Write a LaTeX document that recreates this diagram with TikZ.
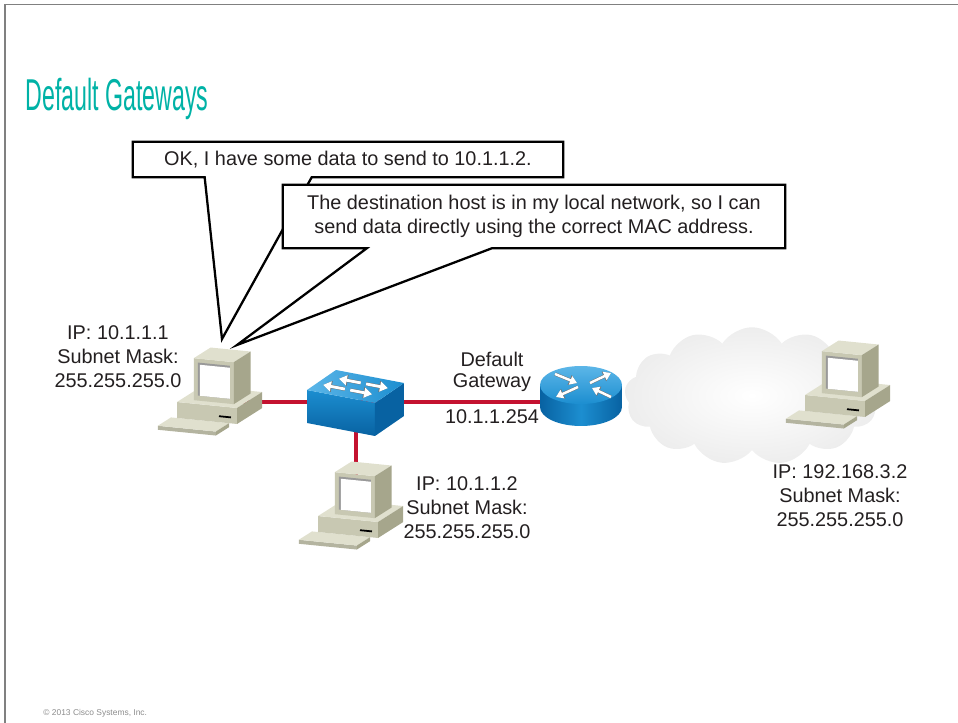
\documentclass[tikz,border=0pt]{standalone}
\usepackage{fontspec}
\setmainfont{Liberation Sans}
\newfontfamily\titlefont[FakeStretch=0.52]{Liberation Sans}
\usetikzlibrary{arrows.meta,shapes.symbols}
\definecolor{ciscoteal}{RGB}{0,178,166}
\definecolor{linkred}{RGB}{196,18,48}
\definecolor{labelgray}{RGB}{35,31,32}
\definecolor{pctop}{RGB}{224,224,206}
\definecolor{pcfront}{RGB}{200,200,178}
\definecolor{pcside}{RGB}{166,166,140}
\definecolor{devblue}{RGB}{28,142,208}
\definecolor{devdark}{RGB}{8,98,162}
\definecolor{devlight}{RGB}{92,182,232}
\pgfdeclarelayer{bg}
\pgfsetlayers{bg,main}

\tikzset{
  link/.style={linkred, line width=2pt},
  say/.style={draw=black, line width=1.3pt, fill=white, line join=miter},
  lbl/.style={text=labelgray, align=center, font=\fontsize{11.3}{13.7}\selectfont},
  swarrow/.style={white, line width=1.6pt, -{Triangle[length=4.5pt,width=5.5pt]},
    preaction={draw=black!55, line width=2.1pt, -{Triangle[length=5pt,width=6.2pt]}}},
  rtarrow/.style={white, line width=1.4pt, -{Triangle[length=4pt,width=5pt]},
    preaction={draw=black!55, line width=1.9pt, -{Triangle[length=4.5pt,width=5.8pt]}}},
  % desktop pc: keyboard, system unit, monitor
  pc/.pic={
    \begin{scope}[x={(0.02cm,-0.002cm)},y={(0cm,0.02cm)},z={(0.012cm,0.0076cm)},line join=round]
      \fill[pcfront!90!black] (-6,-4,-22) -- (52,-4,-22) -- (52,0,-22) -- (-6,0,-22) -- cycle;
      \fill[pctop] (-6,0,-22) -- (52,0,-22) -- (52,0,0) -- (-6,0,0) -- cycle;
      \fill[pcside] (52,-4,-22) -- (52,-4,0) -- (52,0,0) -- (52,0,-22) -- cycle;
      \fill[pcfront] (0,0,0) -- (60,0,0) -- (60,16,0) -- (0,16,0) -- cycle;
      \fill[pctop] (0,16,0) -- (60,16,0) -- (60,16,42) -- (0,16,42) -- cycle;
      \fill[pcside] (60,0,0) -- (60,0,42) -- (60,16,42) -- (60,16,0) -- cycle;
      \draw[black, line width=1pt] (42,6,0) -- (54,6,0);
      \fill[pcfront] (12,16,8) -- (52,16,8) -- (52,58,8) -- (12,58,8) -- cycle;
      \fill[pctop] (12,58,8) -- (52,58,8) -- (52,58,36) -- (12,58,36) -- cycle;
      \fill[pcside] (52,16,8) -- (52,16,36) -- (52,58,36) -- (52,58,8) -- cycle;
      \fill[black!40] (16,21,8) -- (48,21,8) -- (48,54,8) -- (16,54,8) -- cycle;
      \fill[white] (18,21,8) -- (48,21,8) -- (48,52,8) -- (18,52,8) -- cycle;
    \end{scope}
    \coordinate (-c) at (44,-41);
  },
  % workgroup switch
  switch/.pic={
    \begin{scope}[x={(1.36cm,-0.26cm)},y={(0.58cm,0.4cm)},z={(0cm,-0.66cm)},line join=round]
      \shade[top color=devblue, bottom color=devdark] (0,0,0) -- (1,0,0) -- (1,0,1) -- (0,0,1) -- cycle;
      \fill[devdark] (1,0,0) -- (1,1,0) -- (1,1,1) -- (1,0,1) -- cycle;
      \shade[left color=devlight, right color=devblue] (0,0,0) -- (1,0,0) -- (1,1,0) -- (0,1,0) -- cycle;
      \draw[swarrow] (0.50,0.68,0) -- (0.18,0.68,0);
      \draw[swarrow] (0.58,0.68,0) -- (0.90,0.68,0);
      \draw[swarrow] (0.42,0.32,0) -- (0.10,0.32,0);
      \draw[swarrow] (0.50,0.32,0) -- (0.82,0.32,0);
    \end{scope}
    \coordinate (-c) at (49,12);
  },
  % router disk
  router/.pic={
    \shade[left color=devdark, right color=devdark, middle color=devblue]
      (-41,0) -- (-41,22) arc[start angle=180, end angle=360, x radius=0.82cm, y radius=0.38cm] -- (41,0) -- cycle;
    \shade[top color=devlight, bottom color=devblue] (0,0) ellipse [x radius=0.82cm, y radius=0.38cm];
    \draw[rtarrow] (-26,-11) -- (-4,-2);
    \draw[rtarrow] (9,-2) -- (30,-12);
    \draw[rtarrow] (-3,2) -- (-25,12);
    \draw[rtarrow] (30,12) -- (11,3);
    \coordinate (-c) at (0,11);
  }
}

\begin{document}
\begin{tikzpicture}[x=0.02cm,y=-0.02cm]
  \useasboundingbox (0,0) rectangle (958,723);
  \draw[black!50, line width=0.9pt] (5,723) -- (5,4.5) -- (958,4.5);
  \node[anchor=base west, inner sep=0, text=ciscoteal,
        font=\titlefont\fontsize{25.4}{30}\selectfont] (title) at (25,111) {Default Gateways};
  \node[anchor=base west, inner sep=0, text=black!45,
        font=\fontsize{4.8}{6}\selectfont] (copy) at (43,715) {\textcopyright{} 2013 Cisco Systems, Inc.};

  % speech bubbles
  \node[lbl, minimum width=8.6cm, minimum height=0.7cm, inner sep=0] (okmsg) at (348,159.5)
    {OK, I have some data to send to 10.1.1.2.};
  \node[lbl, minimum width=10.04cm, minimum height=1.26cm, inner sep=0] (localmsg) at (534,216.5)
    {The destination host is in my local network, so I can\\send data directly using the correct MAC address.};
  \coordinate (tipA) at (222,339);
  \coordinate (tipB) at (237,345);

  % devices
  \node[cloud, cloud puffs=13, cloud puff arc=115, aspect=1.85, minimum width=5.1cm,
        minimum height=2.75cm, inner color=white, outer color=black!7] (inet) at (752,396) {};
  \pic (pcA) at (177,418) {pc};
  \pic (pcB) at (318,532) {pc};
  \pic (pcC) at (805,411) {pc};
  \pic (sw) at (307,390) {switch};
  \pic (gw) at (581,385) {router};

  % addresses
  \node[lbl] (ipA) at (118,357) {IP: 10.1.1.1\\Subnet Mask:\\255.255.255.0};
  \node[lbl] (ipB) at (467,508) {IP: 10.1.1.2\\Subnet Mask:\\255.255.255.0};
  \node[lbl] (ipC) at (840,496) {IP: 192.168.3.2\\Subnet Mask:\\255.255.255.0};
  \node[lbl, font=\fontsize{11.3}{12.2}\selectfont] (gwname) at (492,372) {Default\\Gateway};
  \node[lbl] (gwip) at (492,417) {10.1.1.254};

  \begin{pgfonlayer}{bg}
    \draw[say] (okmsg.north west) -- (okmsg.north east) -- (okmsg.south east)
      -- ([xshift=3.58cm]okmsg.south west) -- (tipA) -- ([xshift=1.44cm]okmsg.south west)
      -- (okmsg.south west) -- cycle;
    \draw[say] (localmsg.north west) -- (localmsg.north east) -- (localmsg.south east)
      -- ([xshift=4.18cm]localmsg.south west) -- (tipB) -- ([xshift=1.68cm]localmsg.south west)
      -- (localmsg.south west) -- cycle;
    \draw[link] (pcA-c |- sw-c) -- (sw-c);
    \draw[link] (sw-c) -- (sw-c -| gw-c);
    \draw[link] (sw-c) -- (sw-c |- pcB-c);
  \end{pgfonlayer}
\end{tikzpicture}
\end{document}
